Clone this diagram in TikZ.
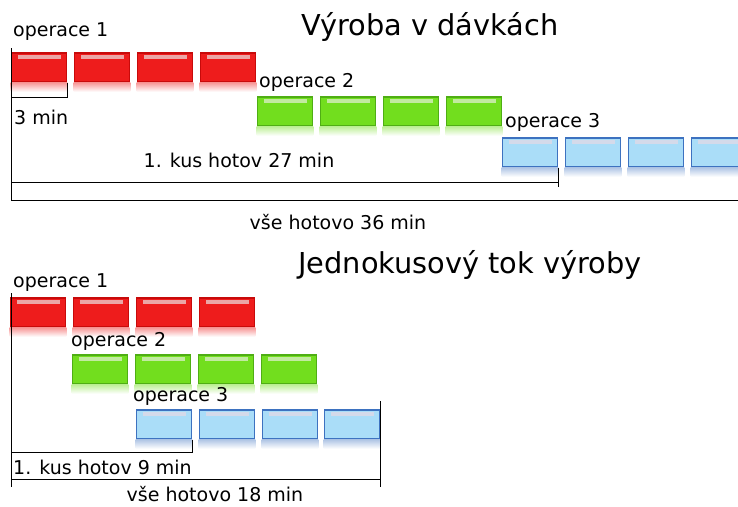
\documentclass[tikz,border=0pt]{standalone}
\usepackage{fontspec}
\setmainfont{DejaVu Sans}
\usetikzlibrary{positioning,calc}

\definecolor{cervena}{HTML}{EE1C1C}
\definecolor{cervenaokraj}{HTML}{C80A0A}
\definecolor{cervenalesk}{HTML}{EBA6A6}
\definecolor{zelena}{HTML}{72DE1E}
\definecolor{zelenaokraj}{HTML}{4FAE14}
\definecolor{zelenalesk}{HTML}{C2EAA0}
\definecolor{modra}{HTML}{AADDF8}
\definecolor{modraokraj}{HTML}{3D72C0}
\definecolor{modralesk}{HTML}{D4DAEA}

\tikzset{
  kus/.style n args={3}{rectangle, minimum width=55pt, minimum height=29pt,
    inner sep=0pt, fill=#1, draw=#2, line width=1.6pt,
    path picture={\fill[#3] ([xshift=6pt,yshift=-1.5pt]path picture bounding box.north west)
      rectangle ([xshift=-6pt,yshift=-5.5pt]path picture bounding box.north east);}},
  cervenykus/.style={kus={cervena}{cervenaokraj}{cervenalesk}},
  zelenykus/.style={kus={zelena}{zelenaokraj}{zelenalesk}},
  modrykus/.style={kus={modra}{modraokraj}{modralesk}},
  popis/.style={inner sep=0pt, font=\fontsize{19}{21}\selectfont},
  nadpis/.style={inner sep=0pt, font=\fontsize{28.8}{32}\selectfont},
  mira/.style={line width=1pt}
}

\begin{document}
\begin{tikzpicture}[x=1pt,y=-1pt]
  \clip (0,0) rectangle (738,506);

  % Vyroba v davkach
  \foreach \i/\x in {1/39,2/102,3/165,4/228} {
    \node[cervenykus] (c\i) at (\x,67.5) {};
    \shade[top color=cervena!45, bottom color=white] (c\i.south west) rectangle ([yshift=-9pt]c\i.south east);
  }
  \foreach \i/\x in {1/285,2/348,3/411,4/474} {
    \node[zelenykus] (z\i) at (\x,111.5) {};
    \shade[top color=zelena!45, bottom color=white] (z\i.south west) rectangle ([yshift=-9pt]z\i.south east);
  }
  \foreach \i/\x in {1/530,2/593,3/656,4/719} {
    \node[modrykus] (m\i) at (\x,152.5) {};
    \shade[top color=modraokraj!40, bottom color=white] (m\i.south west) rectangle ([yshift=-9pt]m\i.south east);
  }

  \node[nadpis] (tit1) at (430,27) {Výroba v dávkách};
  \node[popis, anchor=west] (op1) at (13,32) {operace 1};
  \node[popis, anchor=west] (op2) at (259,82) {operace 2};
  \node[popis, anchor=west] (op3) at (505,122) {operace 3};

  \coordinate (zac1) at (11,48);
  \coordinate (kon1) at (11,200);
  \coordinate (tri) at (11,97);
  \coordinate (prvni1) at (11,182);
  \coordinate (konec1) at (738,200);
  \draw[mira] (zac1) -- (kon1);
  \draw[mira] (c1.south east) |- (tri);
  \draw[mira] (prvni1) -- (prvni1 -| m1.south east);
  \draw[mira] (m1.south east) -- ++(0,19);
  \draw[mira] (kon1) -- (konec1);

  \node[popis, anchor=west] (tri min) at (14,117) {3 min};
  \node[popis] (kus1) at (239,160) {1. kus hotov 27 min};
  \node[popis] (vse1) at (338,222) {vše hotovo 36 min};

  % Jednokusovy tok vyroby
  \foreach \i/\x in {1/38,2/101,3/164,4/227} {
    \node[cervenykus] (jc\i) at (\x,312.5) {};
    \shade[top color=cervena!45, bottom color=white] (jc\i.south west) rectangle ([yshift=-9pt]jc\i.south east);
  }
  \foreach \i/\x in {1/100,2/163,3/226,4/289} {
    \node[zelenykus] (jz\i) at (\x,369.5) {};
    \shade[top color=zelena!45, bottom color=white] (jz\i.south west) rectangle ([yshift=-9pt]jz\i.south east);
  }
  \foreach \i/\x in {1/164,2/227,3/290,4/352} {
    \node[modrykus] (jm\i) at (\x,424.5) {};
    \shade[top color=modraokraj!40, bottom color=white] (jm\i.south west) rectangle ([yshift=-9pt]jm\i.south east);
  }

  \node[nadpis] (tit2) at (470,265) {Jednokusový tok výroby};
  \node[popis, anchor=west] (jop1) at (13,283) {operace 1};
  \node[popis, anchor=west] (jop2) at (71,341) {operace 2};
  \node[popis, anchor=west] (jop3) at (133,396) {operace 3};

  \coordinate (zac2) at (11,293);
  \coordinate (kon2) at (11,487);
  \coordinate (prvni2) at (11,452);
  \coordinate (vse2) at (11,479);
  \draw[mira] (zac2) -- (kon2);
  \draw[mira] (prvni2) -| (jm1.south east);
  \draw[mira] (vse2) -- (vse2 -| jm4.east);
  \draw[mira] ([yshift=8pt]jm4.north east) -- (jm4.east |- kon2);

  \node[popis, anchor=west] (kus2) at (13,467) {1. kus hotov 9 min};
  \node[popis] (vse2t) at (215,494) {vše hotovo 18 min};
\end{tikzpicture}
\end{document}
